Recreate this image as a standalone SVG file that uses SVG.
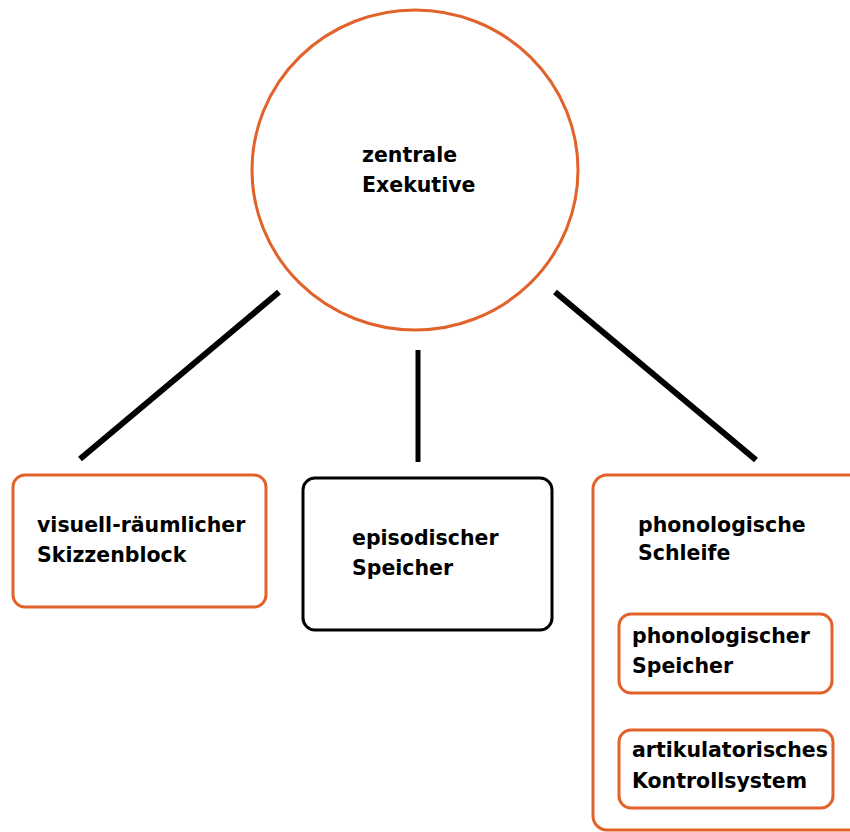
<svg xmlns="http://www.w3.org/2000/svg" width="850" height="832" viewBox="0 0 850 832">
<style>
.o{fill:#fff;stroke:#e2622b;stroke-width:3}
.k{fill:#fff;stroke:#000;stroke-width:3}
.t{font-family:"DejaVu Sans",sans-serif;font-weight:bold;font-size:20.5px;fill:#000}
.c{stroke:#000;stroke-linecap:butt}
</style>
<rect width="850" height="832" fill="#fff"/>
<g id="connectors">
<line class="c" x1="279" y1="292" x2="80" y2="459" stroke-width="6"/>
<line class="c" x1="418" y1="350" x2="418" y2="462" stroke-width="5"/>
<line class="c" x1="555" y1="292" x2="756" y2="460" stroke-width="6"/>
</g>
<g id="zentrale">
<ellipse class="o" cx="415" cy="170" rx="163" ry="160"/>
<text class="t" x="362" y="162">zentrale</text>
<text class="t" x="362" y="192">Exekutive</text>
</g>
<g id="visuell">
<rect class="o" x="13" y="475" width="253" height="132" rx="12"/>
<text class="t" x="37" y="532">visuell-räumlicher</text>
<text class="t" x="37" y="562">Skizzenblock</text>
</g>
<g id="episodisch">
<rect class="k" x="303" y="478" width="249" height="152" rx="12"/>
<text class="t" x="352" y="545">episodischer</text>
<text class="t" x="352" y="575">Speicher</text>
</g>
<g id="schleife">
<rect class="o" x="593" y="475" width="280" height="355" rx="14"/>
<text class="t" x="638" y="532">phonologische</text>
<text class="t" x="638" y="560">Schleife</text>
</g>
<g id="phonspeicher">
<rect class="o" x="619" y="614" width="213" height="79" rx="12"/>
<text class="t" x="632" y="643">phonologischer</text>
<text class="t" x="632" y="673">Speicher</text>
</g>
<g id="artikulatorisch">
<rect class="o" x="619" y="730" width="214" height="78" rx="12"/>
<text class="t" x="632" y="757">artikulatorisches</text>
<text class="t" x="632" y="788">Kontrollsystem</text>
</g>
</svg>
